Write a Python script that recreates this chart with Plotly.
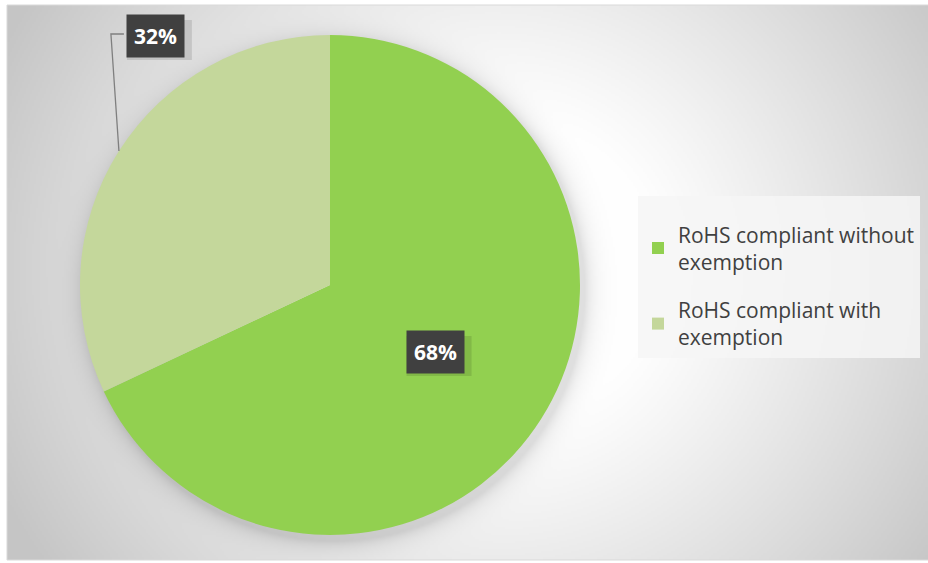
import base64, math, struct, zlib
import numpy as np
import plotly.graph_objects as go

# ---- data ----
labels = ["RoHS compliant without<br>exemption", "RoHS compliant with<br>exemption"]
values = [68, 32]
colors = ["#92D050", "#C4D79B"]

W, H = 928, 563
# chart area (pixels)
AX0, AY0, AX1, AY1 = 7, 5, 928, 560
# pie geometry (pixels)
CX, CY, R = 330, 285, 250


def make_png(arr):
    h, w, _ = arr.shape
    raw = b"".join(b"\x00" + arr[i].tobytes() for i in range(h))

    def chunk(tag, data):
        c = struct.pack(">I", len(data)) + tag + data
        return c + struct.pack(">I", zlib.crc32(tag + data) & 0xFFFFFFFF)

    png = b"\x89PNG\r\n\x1a\n"
    png += chunk(b"IHDR", struct.pack(">IIBBBBB", w, h, 8, 2, 0, 0, 0))
    png += chunk(b"IDAT", zlib.compress(raw, 9))
    png += chunk(b"IEND", b"")
    return "data:image/png;base64," + base64.b64encode(png).decode()


# background radial gradient with soft pie shadow (style only)
s = 2
bw, bh = (AX1 - AX0) // s, (AY1 - AY0) // s
yy, xx = np.mgrid[0:bh, 0:bw].astype(float)
px = AX0 + xx * s
py = AY0 + yy * s
d = np.hypot((px - 490) / 1.0, (py - 270) / 0.95)
t = np.clip((d - 160) / 380, 0, 1)
g = 255 - 57 * t ** 1.1
dc = np.hypot(px - CX - 3, py - CY - 4)
shadow = np.exp(-np.clip(dc - R, 0, None) / 9.0) * 32
shadow[dc < R] = 32
g = np.clip(g - shadow, 0, 255)
img = np.stack([g, g, g], axis=-1).astype(np.uint8)
bg_src = make_png(img)


def fx(p):
    return p / W


def fy(p):
    return 1 - p / H


fig = go.Figure(
    go.Pie(
        labels=labels,
        values=values,
        marker=dict(colors=colors, line=dict(width=0)),
        sort=False,
        direction="clockwise",
        rotation=0,
        textinfo="none",
        hoverinfo="label+percent",
        showlegend=False,
        domain=dict(x=[fx(CX - R), fx(CX + R)], y=[fy(CY + R), fy(CY - R)]),
    )
)

# legend entries (one per slice, so the gap between entries can be set)
for lab, col in zip(labels, colors):
    fig.add_trace(go.Scatter(
        x=[None], y=[None], mode="markers", name=lab, legendgroup=lab,
        marker=dict(symbol="square", size=12, color=col), hoverinfo="skip"))

# label positions derived from the data
total = sum(values)
cum = 0
annotations = []
shapes = []
for i, v in enumerate(values):
    mid = (cum + v / 2) / total * 2 * math.pi
    cum += v
    pct = f"{round(v / total * 100)}%"
    sx, sy = math.sin(mid), -math.cos(mid)
    if i == 0:
        lx, ly = CX + 0.5 * R * sx, CY + 0.5 * R * sy
    else:
        ex, ey = CX + R * sx, CY + R * sy
        lx, ly = ex + 37, 36
        path = f"M {fx(ex)} {fy(ey)} L {fx(ex - 8)} {fy(ly - 2)} L {fx(lx - 32)} {fy(ly - 2)}"
        shapes.append(dict(type="path", xref="paper", yref="paper", path=path,
                           line=dict(color="#7F7F7F", width=1.3)))
    # soft shadow behind the label box
    shapes.append(dict(type="rect", xref="paper", yref="paper",
                       x0=fx(lx - 29), x1=fx(lx + 36), y0=fy(ly + 24), y1=fy(ly - 16),
                       fillcolor="rgba(0,0,0,0.11)", line=dict(width=0)))
    annotations.append(dict(
        x=fx(lx), y=fy(ly), xref="paper", yref="paper", showarrow=False,
        text=f"<b>{pct}</b>", font=dict(family="Open Sans", size=21, color="white"),
        bgcolor="#404040", borderpad=7, xanchor="center", yanchor="middle"))

shapes.append(dict(type="rect", xref="paper", yref="paper",
                   x0=fx(AX0), x1=fx(AX1) + 0.01, y0=fy(AY1), y1=fy(AY0),
                   line=dict(color="#D9D9D9", width=1), layer="below"))

fig.update_layout(
    width=W, height=H,
    margin=dict(l=0, r=0, t=0, b=0),
    paper_bgcolor="white",
    plot_bgcolor="rgba(0,0,0,0)",
    xaxis=dict(visible=False),
    yaxis=dict(visible=False),
    images=[dict(source=bg_src, xref="paper", yref="paper",
                 x=fx(AX0), y=fy(AY0), sizex=(AX1 - AX0) / W, sizey=(AY1 - AY0) / H,
                 sizing="stretch", layer="below", xanchor="left", yanchor="top")],
    legend=dict(
        x=fx(638), y=fy(196), xanchor="left", yanchor="top",
        bgcolor="rgba(246,246,246,0.85)",
        font=dict(family="Open Sans", size=21, color="#404040"),
        itemwidth=30,
        borderwidth=0,
        traceorder="grouped",
        tracegroupgap=18,
        title=dict(text=" ", font=dict(size=14)),
    ),
    showlegend=True,
    annotations=annotations,
    shapes=shapes,
)

fig.write_html("out.html", config={"displayModeBar": False},
               post_script="document.body.style.margin='0';")
